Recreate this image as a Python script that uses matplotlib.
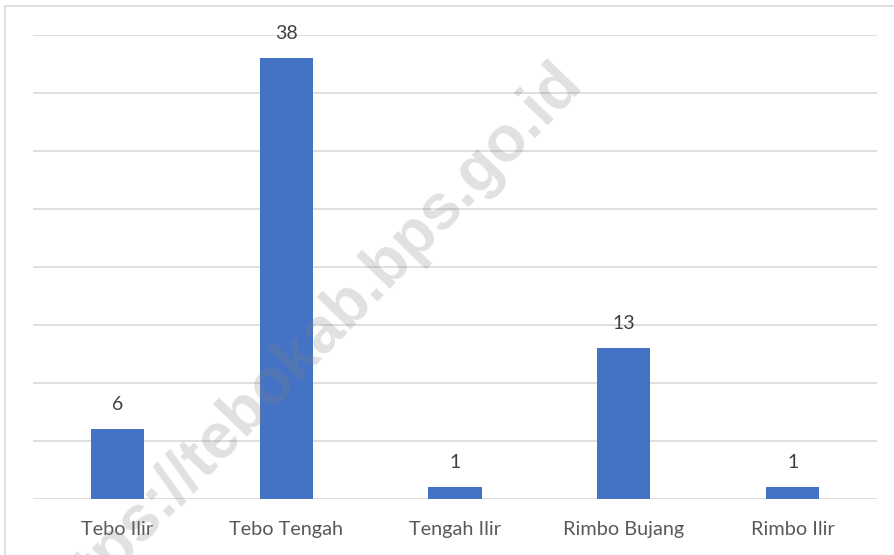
import matplotlib
matplotlib.use("Agg")
import matplotlib.pyplot as plt
from matplotlib.patches import Rectangle

categories = ["Tebo Ilir", "Tebo Tengah", "Tengah Ilir", "Rimbo Bujang", "Rimbo Ilir"]
values = [6, 38, 1, 13, 1]
yticks = [0, 5, 10, 15, 20, 25, 30, 35, 40]
watermark = "https://tebokab.bps.go.id"

W, H = 894, 555
fig = plt.figure(figsize=(W / 100, H / 100), dpi=100)
fig.patch.set_facecolor("white")

ax = fig.add_axes([33 / W, 1 - 499 / H, (877 - 33) / W, (499 - 35) / H])
x = list(range(len(categories)))
ax.bar(x, values, width=0.314, color="#4472C4", zorder=3)
ax.set_xlim(-0.5, len(categories) - 0.5)
ax.set_ylim(0, 40)
ax.set_yticks(yticks)
ax.yaxis.grid(True, color="#D9D9D9", linewidth=1.2, zorder=0)
ax.set_axisbelow(True)
for s in ax.spines.values():
    s.set_visible(False)
ax.tick_params(axis="y", left=False, labelleft=False)
ax.tick_params(axis="x", bottom=False, pad=12.5)
ax.set_xticks(x)
ax.set_xticklabels(categories, fontsize=14.3, color="#595959", family="Lato")
for xi, v in zip(x, values):
    ax.annotate(str(v), (xi, v), xytext=(0, 12), textcoords="offset points",
                ha="center", va="bottom", fontsize=14, color="#404040", family="Lato")

# outer frame
fig.add_artist(Rectangle((5 / W, -0.02), 1.05, 1 - 6 / H + 0.02, transform=fig.transFigure,
                         fill=False, edgecolor="#D9D9D9", linewidth=1.2))

fig.text(320 / W, 1 - 357 / H, watermark, rotation=46, ha="center", va="baseline",
         fontsize=46, fontweight="bold", family="Liberation Sans",
         color="#808080", alpha=0.24, zorder=10, rotation_mode="anchor")

fig.savefig("out.png", dpi=100)
